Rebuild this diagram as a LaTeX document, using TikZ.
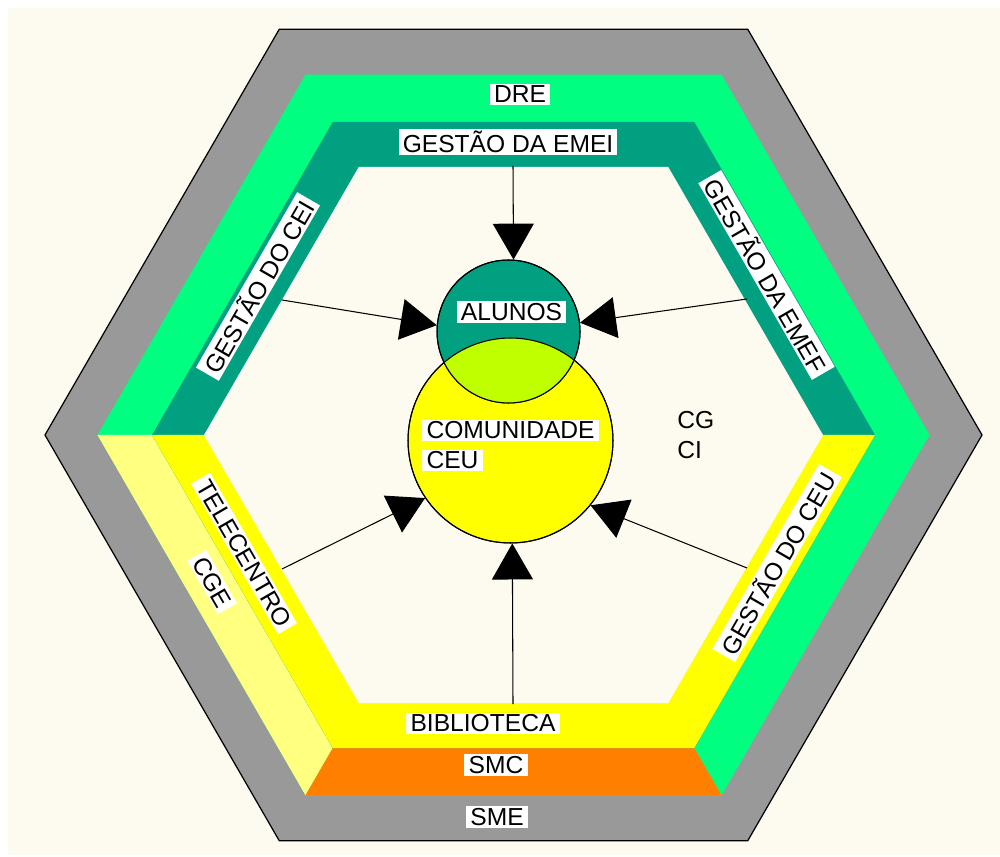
\documentclass[tikz,border=0pt]{standalone}
\usepackage{fontspec}
\setmainfont{Liberation Sans}
\usetikzlibrary{arrows.meta}
\definecolor{creme}{RGB}{253,251,240}
\definecolor{cinza}{RGB}{153,153,153}
\definecolor{verde}{RGB}{0,255,128}
\definecolor{verdeesc}{RGB}{0,160,128}
\definecolor{amarelo}{RGB}{255,255,0}
\definecolor{amareloclaro}{RGB}{255,255,128}
\definecolor{laranja}{RGB}{255,128,0}
\definecolor{limao}{RGB}{192,255,0}
\tikzset{
  rotulo/.style={fill=white, inner xsep=2.4pt, inner ysep=1.3pt, font=\fontsize{14}{17}\selectfont},
  seta/.style={line width=0.6pt, -{Triangle[length=0.72cm,width=0.82cm]}},
  bola/.style={circle, draw, line width=0.6pt, inner sep=0pt},
}
\begin{document}
\begin{tikzpicture}[x=0.02cm, y=-0.02cm]
\useasboundingbox (0,0) rectangle (1000,857);
\fill[white] (0,0) rectangle (1000,857);
\fill[creme] (8,8) rectangle (1000,855);
% aneis do hexagono
\begin{scope}[shift={(513.5,435)}]
  \filldraw[fill=cinza, draw=black, line width=0.7pt] (0:468.5) -- (60:468.5) -- (120:468.5) -- (180:468.5) -- (240:468.5) -- (300:468.5) -- cycle;
  \fill[verde] (0:416) -- (60:416) -- (120:416) -- (180:416) -- (240:416) -- (300:416) -- cycle;
  \fill[amareloclaro] (180:416) -- (120:416) -- (120:361.5) -- (180:361.5) -- cycle;
  \fill[laranja] (120:416) -- (60:416) -- (60:361.5) -- (120:361.5) -- cycle;
  \fill[verdeesc] (0:361.5) -- (60:361.5) -- (120:361.5) -- (180:361.5) -- (240:361.5) -- (300:361.5) -- cycle;
  \fill[amarelo] (0:361.5) -- (60:361.5) -- (120:361.5) -- (180:361.5) -- cycle;
  \fill[creme] (0:309.5) -- (60:309.5) -- (120:309.5) -- (180:309.5) -- (240:309.5) -- (300:309.5) -- cycle;
\end{scope}
% circulos
\node[bola, fill=amarelo, minimum size=4.1cm] (circCom) at (510.5,440.5) {};
\node[bola, fill=verdeesc, minimum size=2.86cm] (circAlu) at (508.5,331.5) {};
\begin{scope}
  \clip (circCom.center) circle[radius=2.05cm];
  \fill[limao] (circAlu.center) circle[radius=1.43cm];
\end{scope}
\draw[line width=0.6pt] (circCom.center) circle[radius=2.05cm];
\draw[line width=0.6pt] (circAlu.center) circle[radius=1.43cm];
% setas
\coordinate (pEmei) at (513,166);
\coordinate (pCei) at (282,300);
\coordinate (pEmef) at (747,299);
\coordinate (pTele) at (282,569);
\coordinate (pCeu) at (747,568);
\coordinate (pBib) at (513,704);
\draw[seta] (pEmei) -- (circAlu.86);
\draw[seta] (pCei) -- (circAlu.175);
\draw[seta] (pEmef) -- (circAlu.7);
\draw[seta] (pTele) -- (circCom.214);
\draw[seta] (pCeu) -- (circCom.-39);
\draw[seta] (pBib) -- (circCom.-89);
% rotulos
\node[rotulo] (dre) at (520,94.5) {DRE};
\node[rotulo] (emei) at (508,142) {GESTÃO DA EMEI};
\node[rotulo, rotate=60] (cei) at (258,286.5) {GESTÃO DO CEI};
\node[rotulo, rotate=-60] (emef) at (766.5,275) {GESTÃO DA EMEF};
\node[rotulo, rotate=60] (ceu) at (777,563) {GESTÃO DO CEU};
\node[rotulo, rotate=-60] (tele) at (244,553.5) {TELECENTRO};
\node[rotulo, rotate=-60] (cge) at (212,582) {CGE};
\node[rotulo] (bib) at (483,723.5) {BIBLIOTECA};
\node[rotulo] (smc) at (496,765) {SMC};
\node[rotulo] (sme) at (497,817) {SME};
\node[rotulo] (alunos) at (511.5,312) {ALUNOS};
\node[rotulo, anchor=west] (comunidade) at (422,430.5) {COMUNIDADE};
\node[rotulo, anchor=west] (ceuCom) at (422,460.5) {CEU};
\node[font=\fontsize{14}{17}\selectfont, align=left, anchor=west, inner sep=0pt] (cgci) at (677,435) {CG\\CI};
\end{tikzpicture}
\end{document}
